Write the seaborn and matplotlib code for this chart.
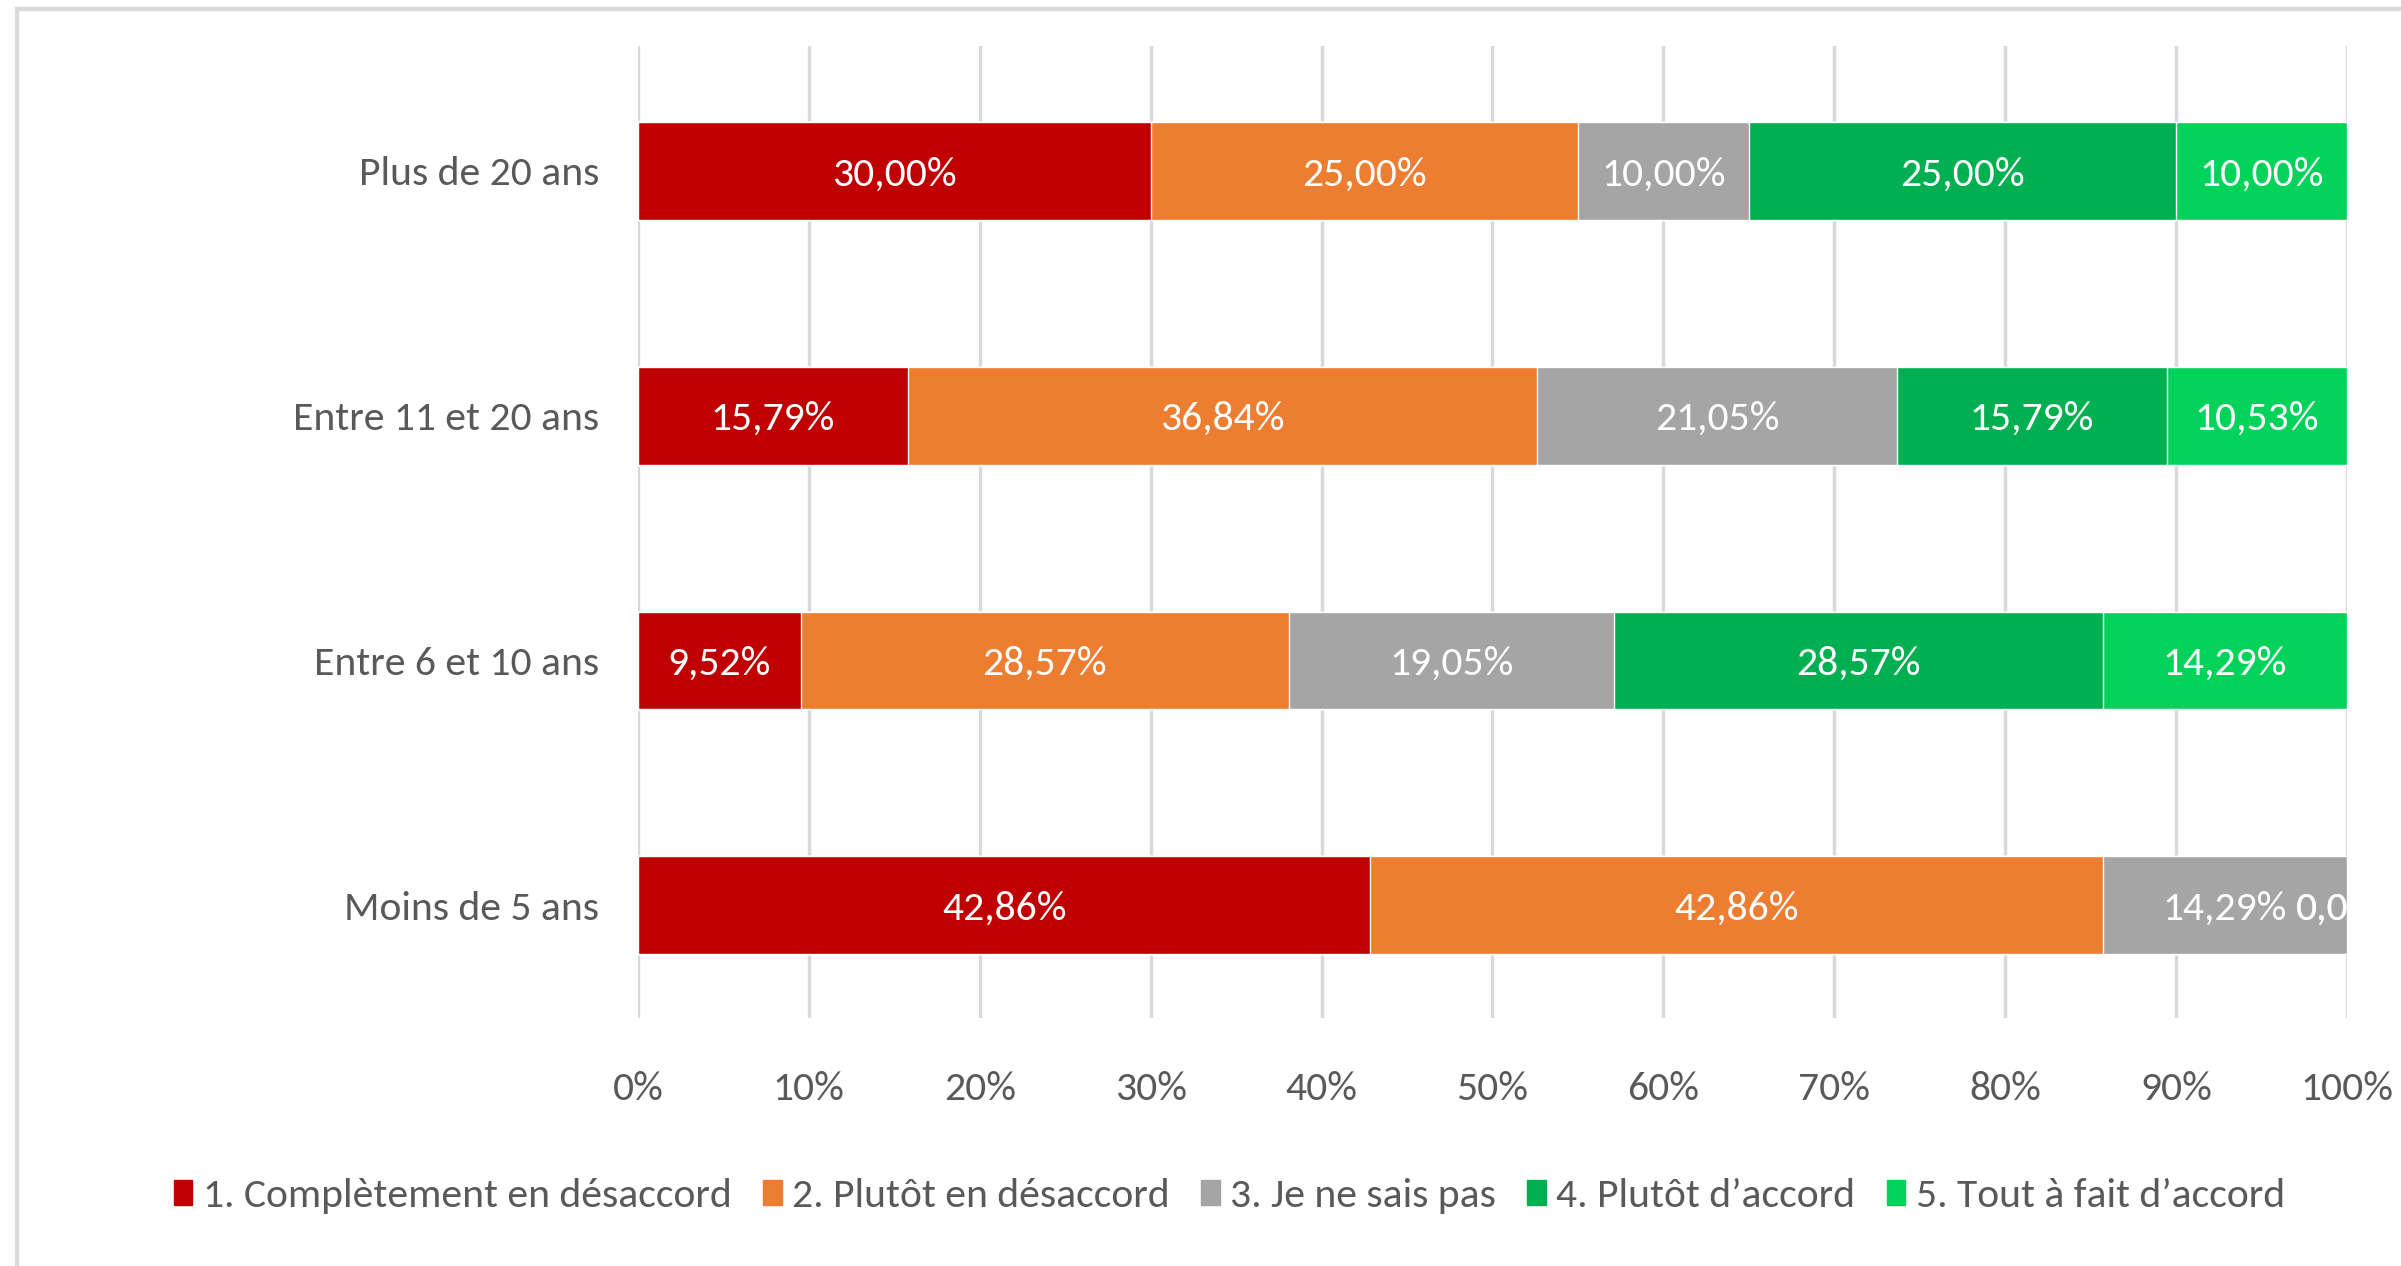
import pandas as pd
import seaborn as sns
import matplotlib.pyplot as plt
from matplotlib.patches import Rectangle

categories = ["Plus de 20 ans", "Entre 11 et 20 ans", "Entre 6 et 10 ans", "Moins de 5 ans"]
series_names = [
    "1. Complètement en désaccord",
    "2. Plutôt en désaccord",
    "3. Je ne sais pas",
    "4. Plutôt d\u2019accord",
    "5. Tout à fait d\u2019accord",
]
colors = ["#C00000", "#ED7D31", "#A5A5A5", "#00B050", "#00D25A"]

s1 = [30.00, 15.79, 9.52, 42.86]
s2 = [25.00, 36.84, 28.57, 42.86]
s3 = [10.00, 21.05, 19.05, 14.29]
s4 = [25.00, 15.79, 28.57, 0.00]
s5 = [10.00, 10.53, 14.29, 0.00]
values = [s1, s2, s3, s4, s5]

x_ticks = list(range(0, 101, 10))

sns.set_theme(style="white")
plt.rcParams["font.family"] = ["Carlito", "Liberation Sans Narrow", "Lato", "DejaVu Sans"]
FS = 30

fig = plt.figure(figsize=(24.01, 12.66), dpi=100)
ax = fig.add_axes([0.2657, 0.1959, 0.7118, 0.7678])

# cumulative ends, drawn from last series to first so they overlap into a stack
df = pd.DataFrame({"cat": categories})
run = [0.0] * len(categories)
starts = []
for name, vals in zip(series_names, values):
    starts.append(list(run))
    run = [r + v for r, v in zip(run, vals)]
    df[name] = run

for name, col in reversed(list(zip(series_names, colors))):
    sns.barplot(data=df, x=name, y="cat", order=categories, color=col,
                width=0.4, ax=ax, saturation=1, label=name, zorder=3)

for vals, st in zip(values, starts):
    for i, (v, s) in enumerate(zip(vals, st)):
        txt = f"{v:.2f}%".replace(".", ",")
        ax.text(s + v / 2, i, txt, ha="center", va="center_baseline", color="white",
                fontsize=FS, zorder=5, clip_on=True)

ax.set_xlim(0, 100)
ax.set_ylim(3.46, -0.51)
ax.set_xticks(x_ticks)
ax.set_xticklabels([f"{t}%" for t in x_ticks])
ax.xaxis.grid(True, color="#D9D9D9", linewidth=2.5, zorder=0)
ax.set_axisbelow(True)
for sp in ax.spines.values():
    sp.set_visible(False)
ax.set_xlabel("")
ax.set_ylabel("")
ax.tick_params(axis="x", length=0, pad=38, labelsize=FS, labelcolor="#595959")
ax.tick_params(axis="y", length=0, pad=28, labelsize=FS, labelcolor="#595959")
if ax.get_legend():
    ax.get_legend().remove()

handles = [Rectangle((0, 0), 1, 1, color=c) for c in colors]
fig.legend(handles, series_names, loc="center", bbox_to_anchor=(0.512, 0.055),
           ncol=5, frameon=False, fontsize=FS, labelcolor="#595959",
           handlelength=0.45, handleheight=0.55, handletextpad=0.25,
           columnspacing=0.75)

# chart frame
fig.patches.append(Rectangle((17 / 2401, -0.05), 1.1, 1 - 9 / 1266 + 0.05,
                             transform=fig.transFigure, fill=False,
                             edgecolor="#D9D9D9", linewidth=3))

fig.savefig("out.png", dpi=100)
